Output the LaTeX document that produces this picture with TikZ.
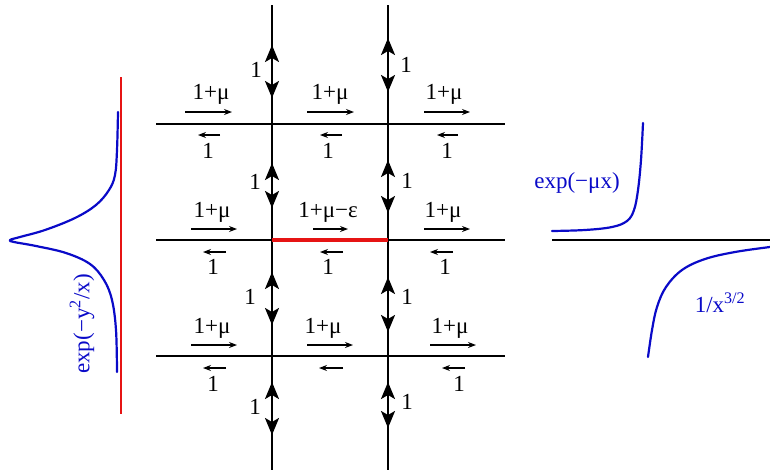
\documentclass[tikz,border=0pt]{standalone}
\usepackage{fontspec}
\setmainfont{Liberation Serif}
\usetikzlibrary{arrows.meta}
\definecolor{cblue}{RGB}{10,10,200}
\definecolor{cred}{RGB}{230,20,20}
\begin{document}
\begin{tikzpicture}[x=1pt,y=-1pt,
  every node/.style={font=\fontsize{23}{25}\selectfont, inner sep=0pt},
  gridline/.style={line width=2.2pt, black},
  bigarr/.style={line width=2.2pt, {Stealth[length=17pt,width=14pt,inset=4pt]}-{Stealth[length=17pt,width=14pt,inset=4pt]}},
  rarr/.style={line width=1.1pt, -{Stealth[length=8pt,width=6pt]}},
  curve/.style={line width=2.2pt, cblue, line join=round, line cap=round},
  lbl/.style={cblue}]
\useasboundingbox (0,0) rectangle (770,472);
% grid
\coordinate (vL1) at (272,5); \coordinate (vL2) at (272,470);
\coordinate (vR1) at (388,5); \coordinate (vR2) at (388,470);
\coordinate (h1a) at (156,124); \coordinate (h1b) at (505,124);
\coordinate (h2a) at (156,240); \coordinate (h2b) at (505,240);
\coordinate (h3a) at (156,356); \coordinate (h3b) at (505,356);
\coordinate (x2L) at (272,240); \coordinate (x2R) at (388,240);
\draw[gridline] (vL1) -- (vL2);
\draw[gridline] (vR1) -- (vR2);
\draw[gridline] (h1a) -- (h1b);
\draw[gridline] (h2a) -- (h2b);
\draw[gridline] (h3a) -- (h3b);
\draw[line width=4.5pt, cred] (x2L) -- (x2R);
% vertical double arrows
\draw[bigarr] (272,98) -- (272,45);
\draw[bigarr] (388,92) -- (388,38);
\draw[bigarr] (272,208) -- (272,163);
\draw[bigarr] (388,213) -- (388,160);
\draw[bigarr] (272,325) -- (272,272);
\draw[bigarr] (388,332) -- (388,277);
\draw[bigarr] (272,435) -- (272,382);
\draw[bigarr] (388,428) -- (388,382);
\node (v1) at (256,70) {1};
\node (v2) at (406,65) {1};
\node (v3) at (255,182) {1};
\node (v4) at (407,181) {1};
\node (v5) at (250,297) {1};
\node (v6) at (407,297) {1};
\node (v7) at (255,407) {1};
\node (v8) at (407,402) {1};
% horizontal arrows, line 1
\draw[rarr] (185,112) -- (232,112);
\draw[rarr] (307,112) -- (354,112);
\draw[rarr] (424,112) -- (470,112);
\draw[rarr] (220,135) -- (198,135);
\draw[rarr] (342,135) -- (320,135);
\draw[rarr] (458,135) -- (437,135);
\node (a1) at (211,94) {1+μ};
\node (a2) at (330,94) {1+μ};
\node (a3) at (444,94) {1+μ};
\node (b1) at (208,151) {1};
\node (b2) at (328,151) {1};
\node (b3) at (447,151) {1};
% line 2
\draw[rarr] (191,229) -- (237,229);
\draw[rarr] (313,229) -- (348,229);
\draw[rarr] (424,229) -- (470,229);
\draw[rarr] (226,252) -- (203,252);
\draw[rarr] (343,252) -- (320,252);
\draw[rarr] (453,252) -- (430,252);
\node (a4) at (212,212) {1+μ};
\node (a5) at (328,212) {1+μ−ε};
\node (a6) at (443,212) {1+μ};
\node (b4) at (213,267) {1};
\node (b5) at (328,267) {1};
\node (b6) at (445,267) {1};
% line 3
\draw[rarr] (191,345) -- (237,345);
\draw[rarr] (307,345) -- (353,345);
\draw[rarr] (430,345) -- (476,345);
\draw[rarr] (226,368) -- (203,368);
\draw[rarr] (343,368) -- (319,368);
\draw[rarr] (465,368) -- (442,368);
\node (a7) at (212,328) {1+μ};
\node (a8) at (323,328) {1+μ};
\node (a9) at (450,328) {1+μ};
\node (b7) at (213,384) {1};
\node (b9) at (459,384) {1};
% left panel
\coordinate (rl1) at (121,77); \coordinate (rl2) at (121,414);
\draw[line width=1.3pt, cred] (rl1) -- (rl2);
\draw[curve] plot[smooth, tension=0.6] coordinates {(118,112) (117,150) (115,175) (109,190) (96,205) (75,218) (45,230) (20,237) (10,240) (14,242) (36,246) (66,253) (90,264) (104,280) (112,300) (116,330) (117,372)};
\node[lbl, rotate=90] (gl) at (82,324) {exp(−y\textsuperscript{2}/x)};
% right panel
\coordinate (ra) at (552,240); \coordinate (rb) at (770,240);
\draw[gridline] (ra) -- (rb);
\draw[curve] plot[smooth, tension=0.6] coordinates {(552,231) (585,230) (612,227) (627,221) (634,210) (638,190) (641,160) (643,123)};
\draw[curve] plot[smooth, tension=0.6] coordinates {(770,247) (735,252) (705,259) (682,270) (666,287) (657,307) (652,330) (648,357)};
\node[lbl] (gr1) at (577,183) {exp(−μx)};
\node[lbl] (gr2) at (720,303) {1/x\textsuperscript{3/2}};
\end{tikzpicture}
\end{document}
